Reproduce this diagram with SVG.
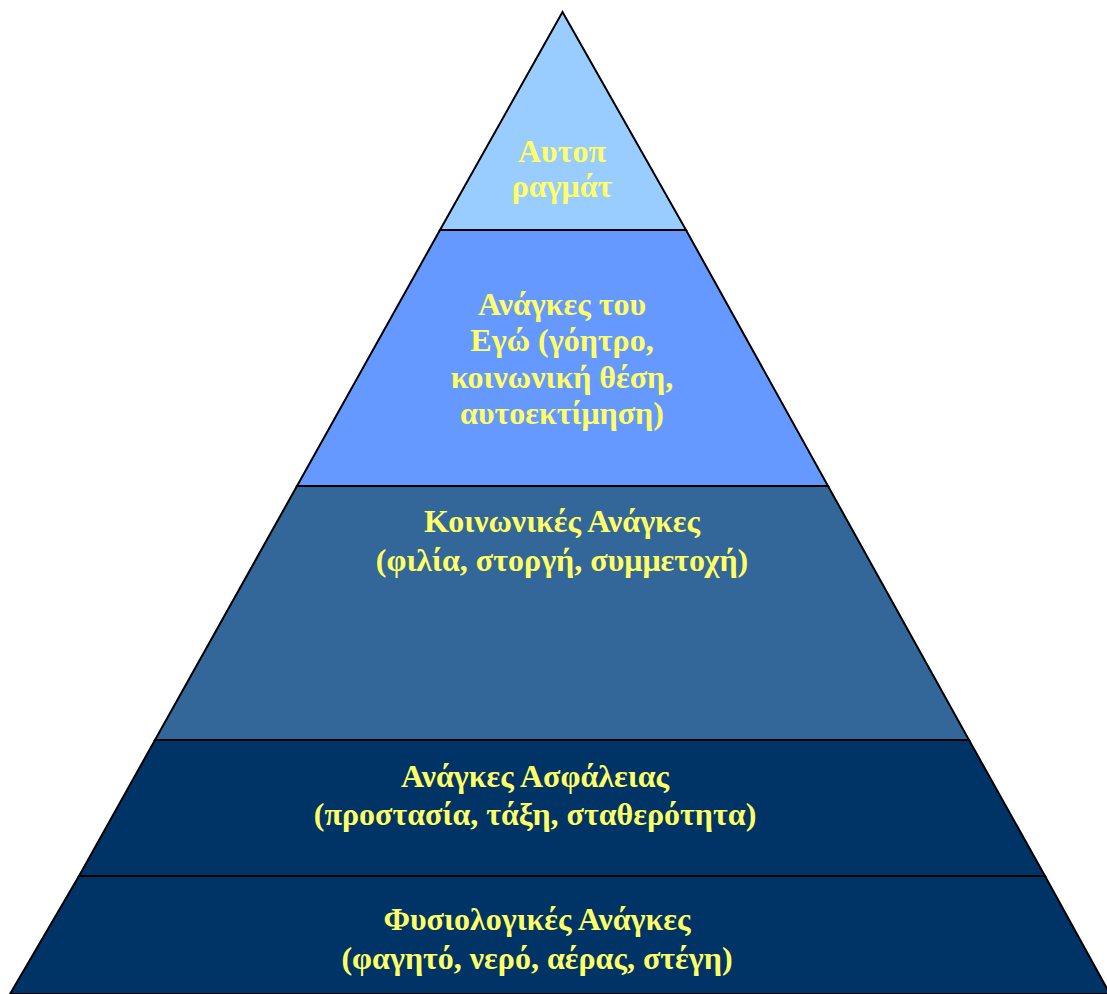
<svg xmlns="http://www.w3.org/2000/svg" width="1107" height="994" viewBox="0 0 1107 994">
<style>
.lvl{stroke:#000;stroke-width:2;stroke-linejoin:miter}
.t{font-family:"Liberation Serif","Times New Roman",serif;font-weight:bold;font-size:32px;fill:#FFFF66;text-anchor:middle}
</style>
<rect width="1107" height="994" fill="#fff"/>
<g id="level5">
<polygon class="lvl" points="79,876 1045,876 1110,994 10,994" fill="#003366"/>
<text class="t" x="537" y="930">Φυσιολογικές Ανάγκες</text>
<text class="t" x="537" y="969">(φαγητό, νερό, αέρας, στέγη)</text>
</g>
<g id="level4">
<polygon class="lvl" points="155,740 969,740 1045,876 79,876" fill="#003366"/>
<text class="t" x="535" y="787">Ανάγκες Ασφάλειας</text>
<text class="t" x="535" y="825">(προστασία, τάξη, σταθερότητα)</text>
</g>
<g id="level3">
<polygon class="lvl" points="297,486 828,486 969,740 155,740" fill="#336699"/>
<text class="t" x="562" y="532">Κοινωνικές Ανάγκες</text>
<text class="t" x="562" y="571">(φιλία, στοργή, συμμετοχή)</text>
</g>
<g id="level2">
<polygon class="lvl" points="440,230 686,230 828,486 297,486" fill="#6699FF"/>
<text class="t" x="562" y="315">Ανάγκες του</text>
<text class="t" x="562" y="351">Εγώ (γόητρο,</text>
<text class="t" x="562" y="388">κοινωνική θέση,</text>
<text class="t" x="562" y="424">αυτοεκτίμηση)</text>
</g>
<g id="level1">
<polygon class="lvl" points="562.5,12 686,230 440,230" fill="#99CCFF"/>
<text class="t" x="562" y="162">Αυτοπ</text>
<text class="t" x="562" y="197">ραγμάτ</text>
</g>
<g id="connectors"></g>
</svg>
